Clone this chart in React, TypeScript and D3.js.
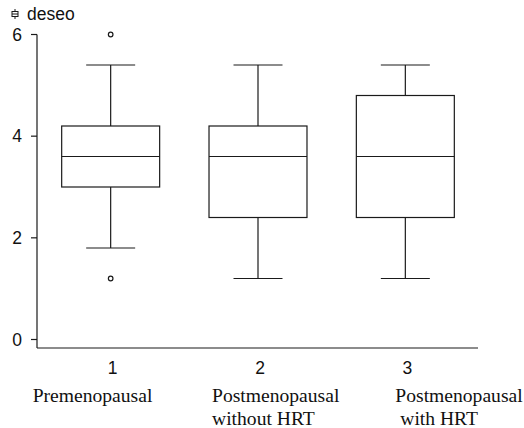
import React from 'react';
import * as d3 from 'd3';

// groups on the x axis
const groups = ['1', '2', '3'];
const groupLabels = [
  ['Premenopausal'],
  ['Postmenopausal', 'without HRT'],
  ['Postmenopausal', ' with HRT'],
];

// box statistics per group
const whiskerLow = [1.8, 1.2, 1.2];
const q1 = [3.0, 2.4, 2.4];
const median = [3.6, 3.6, 3.6];
const q3 = [4.2, 4.2, 4.8];
const whiskerHigh = [5.4, 5.4, 5.4];
const outliers = [[6.0, 1.2], [], []];

const yTicks = [0, 2, 4, 6];
const legendLabel = 'deseo';

const W = 524;
const H = 428;

const App = () => {
  // plot area
  const left = 37;
  const right = 479;
  const axisY = 348;

  const x = d3.scaleBand<string>().domain(groups).range([left, right]).paddingInner(0).paddingOuter(0);
  const y = d3.scaleLinear().domain([0, 6]).range([339.5, 34.5]);

  const boxW = x.bandwidth() * 0.665;
  const capW = boxW / 2;
  // where each category caption starts, relative to the group centre
  const labelDx = [-78, -46, -10];

  const stroke = '#1a1a1a';
  const sans = 'Arial, "Liberation Sans", sans-serif';
  const serif = '"Times New Roman", "Liberation Serif", serif';

  return (
    <svg
      width={W}
      height={H}
      style={{ position: 'absolute', left: 0, top: 0, background: '#fff' }}
    >
      {/* legend */}
      <g transform="translate(15,14)" stroke={stroke} strokeWidth={1} fill="#fff">
        <line x1={0} x2={0} y1={-5} y2={5} />
        <rect x={-3} y={-2.5} width={6} height={5} />
        <line x1={-3} x2={3} y1={0} y2={0} />
      </g>
      <text x={27} y={20} fontFamily={sans} fontSize={17.5} fill="#111">{legendLabel}</text>

      {/* y axis */}
      <line x1={left} x2={left} y1={y(6)} y2={axisY} stroke={stroke} strokeWidth={1.2} />
      {yTicks.map(t => (
        <g key={t}>
          <line x1={left - 6} x2={left} y1={y(t)} y2={y(t)} stroke={stroke} strokeWidth={1.2} />
          <text x={22} y={y(t)} dy="0.36em" textAnchor="end" fontFamily={sans} fontSize={17.5} fill="#111">{t}</text>
        </g>
      ))}

      {/* x axis */}
      <line x1={left} x2={right - 1} y1={axisY} y2={axisY} stroke={stroke} strokeWidth={1.2} />
      {groups.map((g, i) => {
        const cx = (x(g) as number) + x.bandwidth() / 2;
        return (
          <g key={g}>
            <text x={cx + 2} y={368} dy="0.36em" textAnchor="middle" fontFamily={sans} fontSize={17.5} fill="#111">{g}</text>
            {groupLabels[i].map((l, j) => (
              <text key={j} x={cx + labelDx[i]} y={402 + j * 23} fontFamily={serif} fontSize={19.6} fill="#111" style={{ whiteSpace: 'pre' }}>{l}</text>
            ))}
          </g>
        );
      })}

      {/* boxes */}
      {groups.map((g, i) => {
        const cx = (x(g) as number) + x.bandwidth() / 2;
        return (
          <g key={g} stroke={stroke} strokeWidth={1.2} fill="none">
            <line x1={cx} x2={cx} y1={y(whiskerHigh[i])} y2={y(q3[i])} />
            <line x1={cx} x2={cx} y1={y(q1[i])} y2={y(whiskerLow[i])} />
            <line x1={cx - capW / 2} x2={cx + capW / 2} y1={y(whiskerHigh[i])} y2={y(whiskerHigh[i])} />
            <line x1={cx - capW / 2} x2={cx + capW / 2} y1={y(whiskerLow[i])} y2={y(whiskerLow[i])} />
            <rect x={cx - boxW / 2} y={y(q3[i])} width={boxW} height={y(q1[i]) - y(q3[i])} fill="#fff" />
            <line x1={cx - boxW / 2} x2={cx + boxW / 2} y1={y(median[i])} y2={y(median[i])} />
            {outliers[i].map((o, k) => (
              <circle key={k} cx={cx} cy={y(o)} r={2.3} fill="#fff" />
            ))}
          </g>
        );
      })}
    </svg>
  );
};

export default App;
